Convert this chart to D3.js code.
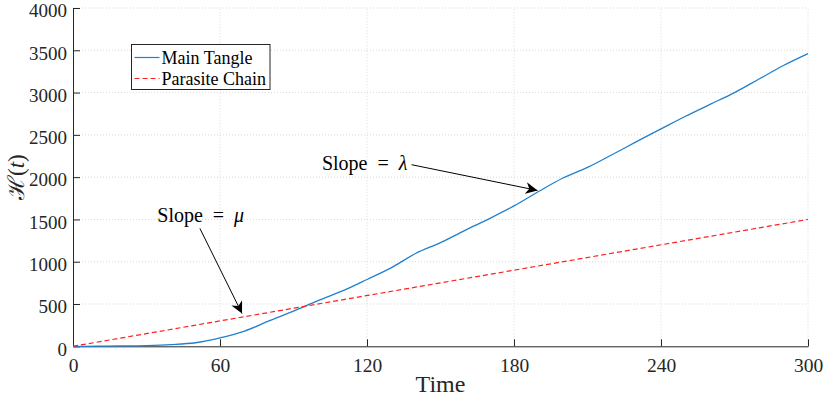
<!DOCTYPE html>
<html>
<head>
<meta charset="utf-8">
<script src="https://cdn.jsdelivr.net/npm/d3@7"></script>
<style>
	body{margin:0;background:#fff;}
	text{font-family:"Liberation Serif","DejaVu Serif",serif;fill:#262626;}
</style>
</head>
<body>
<div id="chart"></div>
<script>
// data
const times = [0,10,20,30,40,50,60,70,80,90,100,110,120,130,140,150,160,170,180,190,200,210,220,230,240,250,260,270,280,290,300];
const mainTangle = [0,1,4,9,20,42,100,180,300,415,540,655,790,930,1100,1225,1370,1510,1660,1830,1990,2115,2265,2420,2570,2720,2860,3000,3160,3320,3460];
const parasiteTimes = [0,300];
const parasiteChain = [0,1500];
const xTicks = [0,60,120,180,240,300];
const yTicks = [0,500,1000,1500,2000,2500,3000,3500,4000];
const seriesNames = ['Main Tangle','Parasite Chain'];
// annotations: text anchor and arrow tail/tip in data units
const notes = [
	{text:'Slope\u2002=\u2002', sym:'μ', tx:34.4, ty:1467, x1:51.8, y1:1393, x2:69, y2:387},
	{text:'Slope\u2002=\u2002', sym:'λ', tx:101.6, ty:2079, x1:138.2, y1:2147, x2:189.6, y2:1843}
];

const W = 830, H = 396,
	margin = {top:8, right:22, bottom:50, left:73};

const svg = d3.select('#chart').append('svg').attr('width', W).attr('height', H);

const scaleX = d3.scaleLinear().domain([0,300]).range([margin.left, W - margin.right]);
const scaleY = d3.scaleLinear().domain([0,4000]).range([H - margin.bottom + 0.3, margin.top]);

// grid
svg.append('g').selectAll('line').data(xTicks.slice(1)).join('line')
	.attr('x1', d => scaleX(d)).attr('x2', d => scaleX(d))
	.attr('y1', scaleY(0)).attr('y2', scaleY(4000))
	.attr('stroke', '#d9d9d9').attr('stroke-dasharray', '1,2');
svg.append('g').selectAll('line').data(yTicks.slice(1)).join('line')
	.attr('y1', d => scaleY(d)).attr('y2', d => scaleY(d))
	.attr('x1', scaleX(0)).attr('x2', scaleX(300))
	.attr('stroke', '#d9d9d9').attr('stroke-dasharray', '1,2');

// axes
const xAxis = svg.append('g').attr('transform', `translate(0,${scaleY(0)})`)
	.call(d3.axisBottom(scaleX).tickValues(xTicks).tickFormat(d3.format('d')).tickSizeInner(-7).tickSizeOuter(0).tickPadding(12));
const yAxis = svg.append('g').attr('transform', `translate(${scaleX(0)},0)`)
	.call(d3.axisLeft(scaleY).tickValues(yTicks).tickFormat(d3.format('d')).tickSizeInner(-7).tickSizeOuter(0).tickPadding(6));
[xAxis, yAxis].forEach(a => {
	a.attr('font-family', null).attr('font-size', null);
	a.select('.domain').attr('stroke', '#262626');
	a.selectAll('.tick line').attr('stroke', '#262626');
	a.selectAll('.tick text').attr('fill', '#262626');
});
xAxis.selectAll('.tick text').attr('font-size', 19.5);
yAxis.selectAll('.tick text').attr('font-size', 19).attr('dy', '0.46em');

// lines
const line = d3.line().x(d => scaleX(d[0])).y(d => scaleY(d[1])).curve(d3.curveMonotoneX);
svg.append('path').datum(times.map((t, i) => [t, mainTangle[i]]))
	.attr('d', line).attr('fill', 'none').attr('stroke', '#1f80cf').attr('stroke-width', 1.3);
svg.append('path').datum(parasiteTimes.map((t, i) => [t, parasiteChain[i]]))
	.attr('d', d3.line().x(d => scaleX(d[0])).y(d => scaleY(d[1])))
	.attr('fill', 'none').attr('stroke', '#ff2020').attr('stroke-width', 1.2).attr('stroke-dasharray', '5,3');

// axis labels
svg.append('text').attr('x', (scaleX(0) + scaleX(300)) / 2).attr('y', 392)
	.attr('text-anchor', 'middle').attr('font-size', 24).text('Time');
const yl = svg.append('text').attr('transform', `translate(24,${(scaleY(0) + scaleY(4000)) / 2}) rotate(-90)`)
	.attr('text-anchor', 'middle').attr('font-size', 23);
yl.append('tspan').text('ℋ');
yl.append('tspan').text('(');
yl.append('tspan').attr('font-style', 'italic').text('t');
yl.append('tspan').text(')');

// arrows
svg.append('defs').append('marker').attr('id', 'head')
	.attr('viewBox', '0 0 10 10').attr('refX', 10).attr('refY', 5)
	.attr('markerWidth', 12).attr('markerHeight', 12).attr('markerUnits', 'userSpaceOnUse')
	.attr('orient', 'auto')
	.append('path').attr('d', 'M0,0 L10,5 L0,10 L3,5 Z').attr('fill', '#000');

notes.forEach(n => {
	svg.append('line')
		.attr('x1', scaleX(n.x1)).attr('y1', scaleY(n.y1))
		.attr('x2', scaleX(n.x2)).attr('y2', scaleY(n.y2))
		.attr('stroke', '#000').attr('stroke-width', 1).attr('marker-end', 'url(#head)');
	const t = svg.append('text').attr('x', scaleX(n.tx)).attr('y', scaleY(n.ty))
		.attr('font-size', 20).attr('style', 'fill:#000');
	t.append('tspan').text(n.text);
	t.append('tspan').attr('font-style', 'italic').text(n.sym);
});

// legend
const leg = svg.append('g').attr('transform', 'translate(131.5,44.5)');
leg.append('rect').attr('width', 138.5).attr('height', 45)
	.attr('fill', '#fff').attr('stroke', '#262626').attr('stroke-width', 1);
seriesNames.forEach((s, i) => {
	const y = 13 + i * 21;
	leg.append('line').attr('x1', 3).attr('x2', 28).attr('y1', y).attr('y2', y)
		.attr('stroke', i === 0 ? '#1f80cf' : '#ff2020').attr('stroke-width', 1.2)
		.attr('stroke-dasharray', i === 0 ? null : '5,3');
	leg.append('text').attr('x', 30).attr('y', y + 6).attr('font-size', 18).attr('style', 'fill:#000').text(s);
});
</script>
</body>
</html>
